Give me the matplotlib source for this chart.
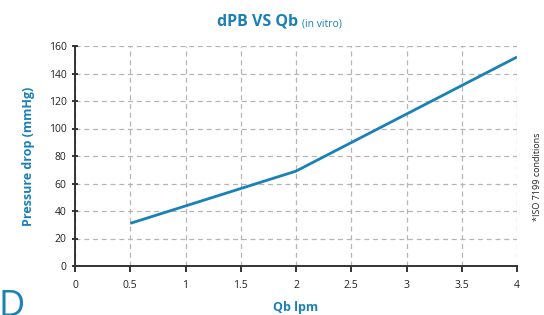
import matplotlib
matplotlib.use("Agg")
import matplotlib.pyplot as plt

# Flow vs pressure drop
qb_lpm = [0.5, 2.0, 4.0]
pressure_drop = [31, 69, 152]

x_ticks = [0, 0.5, 1, 1.5, 2, 2.5, 3, 3.5, 4]
y_ticks = [0, 20, 40, 60, 80, 100, 120, 140, 160]

blue = "#1a80b8"
plt.rcParams["font.family"] = ["Open Sans", "DejaVu Sans"]

fig = plt.figure(figsize=(5.44, 3.15), dpi=100)
ax = fig.add_axes([75 / 544, 49 / 315, 442 / 544, 220 / 315])

ax.plot(qb_lpm, pressure_drop, color=blue, linewidth=2.0, solid_capstyle="butt", zorder=3)

ax.set_xlim(0, 4)
ax.set_ylim(0, 160)
ax.set_xticks(x_ticks)
ax.set_xticklabels([f"{t:g}" for t in x_ticks])
ax.set_yticks(y_ticks)

# Dashed grey grid, only left/bottom axis lines
ax.grid(True, color="#b5b5b5", linestyle=(0, (4, 3)), linewidth=0.9)
ax.set_axisbelow(True)
for side in ["top", "right"]:
    ax.spines[side].set_visible(False)
for side in ["left", "bottom"]:
    ax.spines[side].set_color("#333333")
    ax.spines[side].set_linewidth(1.4)
ax.tick_params(axis="both", direction="inout", length=5, width=1.4, color="#333333",
               labelsize=7.5, labelcolor="#222222")
ax.tick_params(axis="x", direction="out", length=4, pad=6)

# Labels and title
fig.text(296 / 544, 1 - 307 / 315, "Qb lpm", color=blue, fontweight="bold",
         fontsize=9, ha="center", va="center")
ax.set_ylabel("Pressure drop (mmHg)", color=blue, fontweight="bold", fontsize=9, labelpad=10)

fig.text(298 / 544, 1 - 26 / 315, "dPB VS Qb", color=blue, fontweight="bold",
         fontsize=11.5, ha="right", va="baseline")
fig.text(302 / 544, 1 - 26 / 315, "(in vitro)", color=blue, fontsize=7.5,
         ha="left", va="baseline")

fig.text(537 / 544, 1 - 177 / 315, "*ISO 7199 conditions", color="#222222",
         fontsize=6.5, rotation=90, ha="center", va="center")

# Partial logo glyph at the bottom-left corner
fig.text(-2 / 544, -10 / 315, "D", color=blue, fontsize=26, ha="left", va="bottom")

fig.savefig("out.png", dpi=100)
